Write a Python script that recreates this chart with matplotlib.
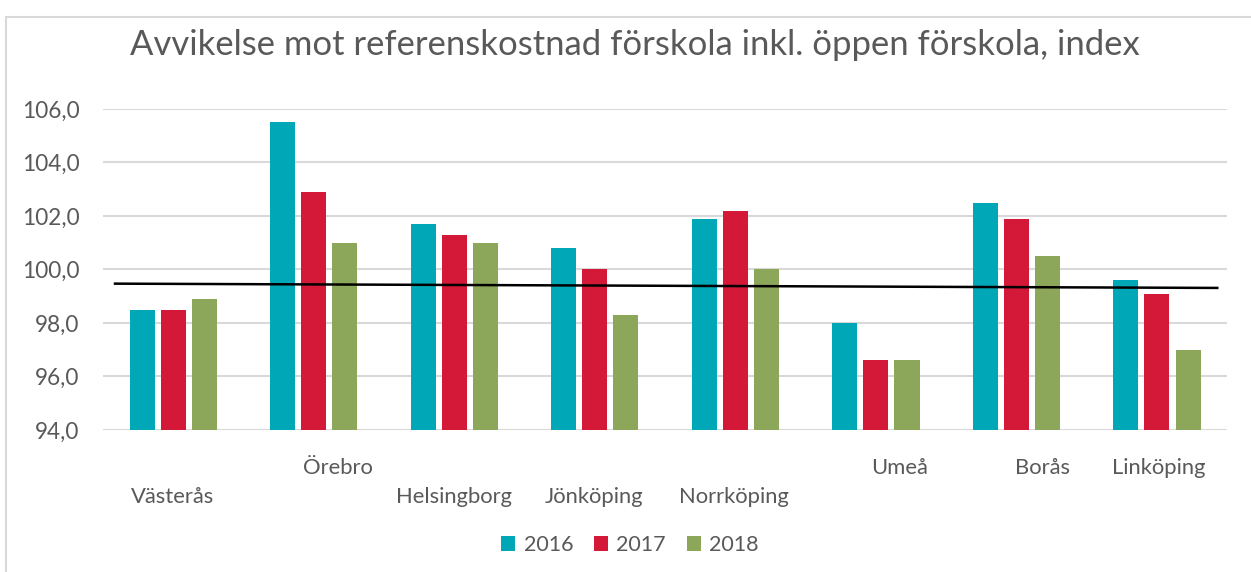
import numpy as np
from matplotlib import pyplot as plt
from matplotlib.patches import Rectangle

# data
kommuner = ['Västerås', 'Örebro', 'Helsingborg', 'Jönköping', 'Norrköping', 'Umeå', 'Borås', 'Linköping']
ar = ['2016', '2017', '2018']
v2016 = [98.5, 105.5, 101.7, 100.8, 101.9, 98.0, 102.5, 99.6]
v2017 = [98.5, 102.9, 101.3, 100.0, 102.2, 96.6, 101.9, 99.1]
v2018 = [98.9, 101.0, 101.0, 98.3, 100.0, 96.6, 100.5, 97.0]
trend = [99.47, 99.31]  # trendlinjens start och slut
yticks = [94, 96, 98, 100, 102, 104, 106]

farger = ['#00A7B7', '#D41837', '#8DA75A']
textfarg = '#595959'
plt.rcParams['font.family'] = ['Lato', 'DejaVu Sans']

fig = plt.figure(figsize=(12.51, 5.72), dpi=100)
ax = fig.add_axes([0.0823, 0.2483, 0.8986, 0.5612])

x = np.arange(len(kommuner))
steg = 0.222
bredd = 0.178
for i, serie in enumerate([v2016, v2017, v2018]):
    ax.bar(x + (i - 1) * steg, np.array(serie) - 94, bottom=94, width=bredd,
           color=farger[i], label=ar[i], zorder=2)

ax.plot([-0.414, 7.43], trend, color='black', lw=1.8, zorder=3)

ax.set_xlim(-0.5, 7.5)
ax.set_ylim(94, 106)
ax.set_yticks(yticks)
ax.set_yticklabels([f'{t},0' for t in yticks], fontsize=16.3, color=textfarg)
ax.tick_params(axis='y', length=0, pad=17)
ax.set_xticks([])
ax.grid(axis='y', color='#d9d9d9', lw=1.5, zorder=0)
ax.set_axisbelow(True)
for s in ax.spines.values():
    s.set_visible(False)

# kategorietiketter i två nivåer, som i Excel
etikett_x = [0, 1.18, 2.01, 3.01, 4.01, 5.19, 6.21, 7.04]
hog = [False, True, False, False, False, True, True, True]
for xi, namn, h in zip(etikett_x, kommuner, hog):
    ypix = 468 if h else 497
    fig.text((103 + (xi + 0.5) * 140) / 1251, 1 - ypix / 572, namn,
             ha='center', va='center', fontsize=15.8, color=textfarg)

fig.text(635 / 1251, 1 - 45 / 572, 'Avvikelse mot referenskostnad förskola inkl. öppen förskola, index',
         ha='center', va='center', fontsize=24.9, color=textfarg)

leg = fig.legend(loc='center', bbox_to_anchor=(630 / 1251, 1 - 545 / 572), ncol=3, frameon=False,
                 fontsize=15.5, handlelength=0.65, handleheight=0.65, handletextpad=0.4,
                 columnspacing=0.95, labelcolor=textfarg)

fig.patches.append(Rectangle((6 / 1251, -0.01), 1.1, 1 - 17 / 572 + 0.01, transform=fig.transFigure,
                             fill=False, ec='#d9d9d9', lw=1.5))

fig.savefig('out.png', dpi=100)
